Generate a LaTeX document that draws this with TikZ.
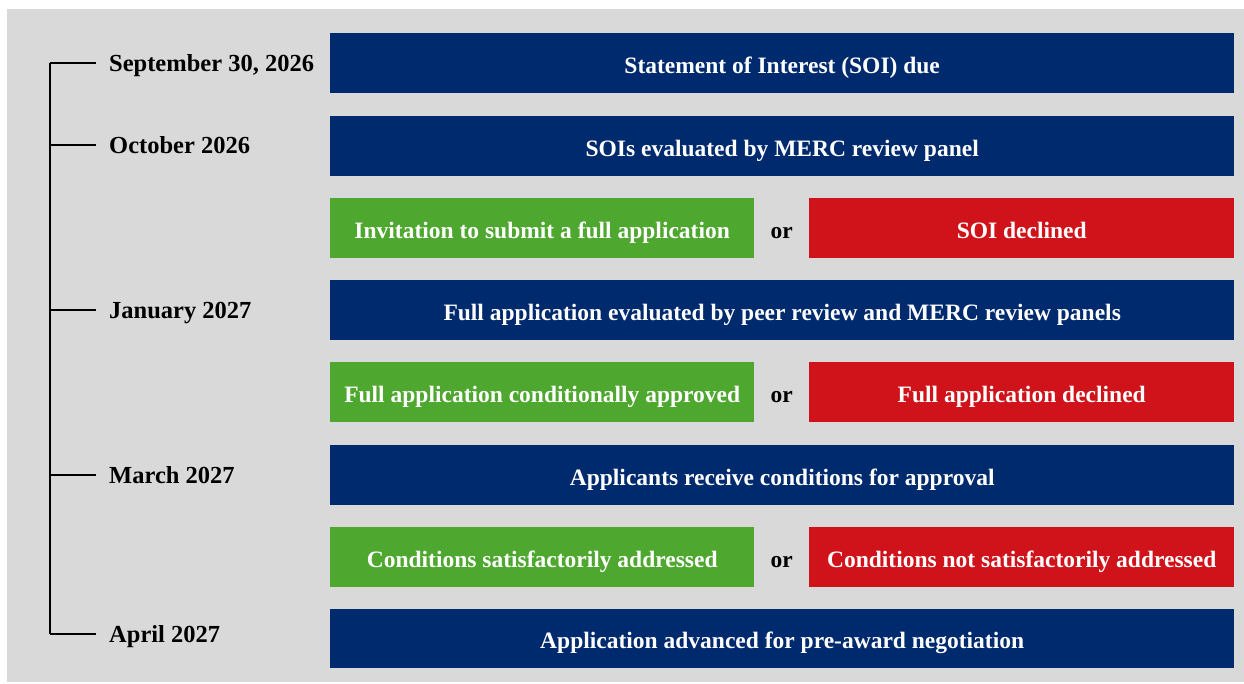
\documentclass[tikz,border=0pt]{standalone}
\usepackage{fontspec}
\setmainfont{Liberation Serif}
\usetikzlibrary{positioning}
\definecolor{navy}{RGB}{0,42,110}
\definecolor{okgreen}{RGB}{78,167,46}
\definecolor{nored}{RGB}{208,18,26}
\definecolor{panel}{RGB}{217,217,217}

\begin{document}
\begin{tikzpicture}[x=1pt, y=-1pt,
    txt/.style={font=\bfseries\fontsize{23.5}{28}\selectfont, text height=21pt, text depth=1pt},
    bar/.style={txt, fill=navy, text=white, minimum width=904pt, minimum height=60pt, inner sep=0pt, anchor=north west},
    yes/.style={bar, fill=okgreen, minimum width=424pt},
    no/.style={bar, fill=nored, minimum width=425pt},
    date/.style={font=\bfseries\fontsize{24.5}{29}\selectfont, text height=18pt, text depth=2pt, text=black, anchor=west, inner sep=0pt},
    tick/.style={black, line width=1.3pt}]
    % Background
    \useasboundingbox (0,0) rectangle (1244,683);
    \fill[panel] (7,9) rectangle (1244,682);

    % Stages
    \node[bar] (soi) at (330,33) {Statement of Interest (SOI) due};
    \node[bar] (merc) at (330,116) {SOIs evaluated by MERC review panel};
    \node[yes] (invite) at (330,198) {Invitation to submit a full application};
    \node[no] (soino) at (809,198) {SOI declined};
    \node[bar] (peer) at (330,280) {Full application evaluated by peer review and MERC review panels};
    \node[yes] (cond) at (330,362) {Full application conditionally approved};
    \node[no] (fullno) at (809,362) {Full application declined};
    \node[bar] (recv) at (330,445) {Applicants receive conditions for approval};
    \node[yes] (met) at (330,527) {Conditions satisfactorily addressed};
    \node[no] (notmet) at (809,527) {Conditions not satisfactorily addressed};
    \node[bar, minimum height=59pt] (adv) at (330,609) {Application advanced for pre-award negotiation};

    % Either/or
    \foreach \a/\b in {invite/soino, cond/fullno, met/notmet} {
        \path (\a.east) -- (\b.west) node[midway, txt, text=black] {or};
    }

    % Dates
    \node[date] (d1) at (109,63) {September 30, 2026};
    \node[date] (d2) at (109,145) {October 2026};
    \node[date] (d3) at (109,310) {January 2027};
    \node[date] (d4) at (109,475) {March 2027};
    \node[date] (d5) at (109,634) {April 2027};

    % Timeline
    \foreach \d in {d1, d2, d3, d4, d5} {
        \coordinate (s\d) at (50, 0 |- \d.west);
        \draw[tick] (s\d) -- ([xshift=-13pt]\d.west);
    }
    \draw[tick] (sd1) -- (sd5);
\end{tikzpicture}
\end{document}
